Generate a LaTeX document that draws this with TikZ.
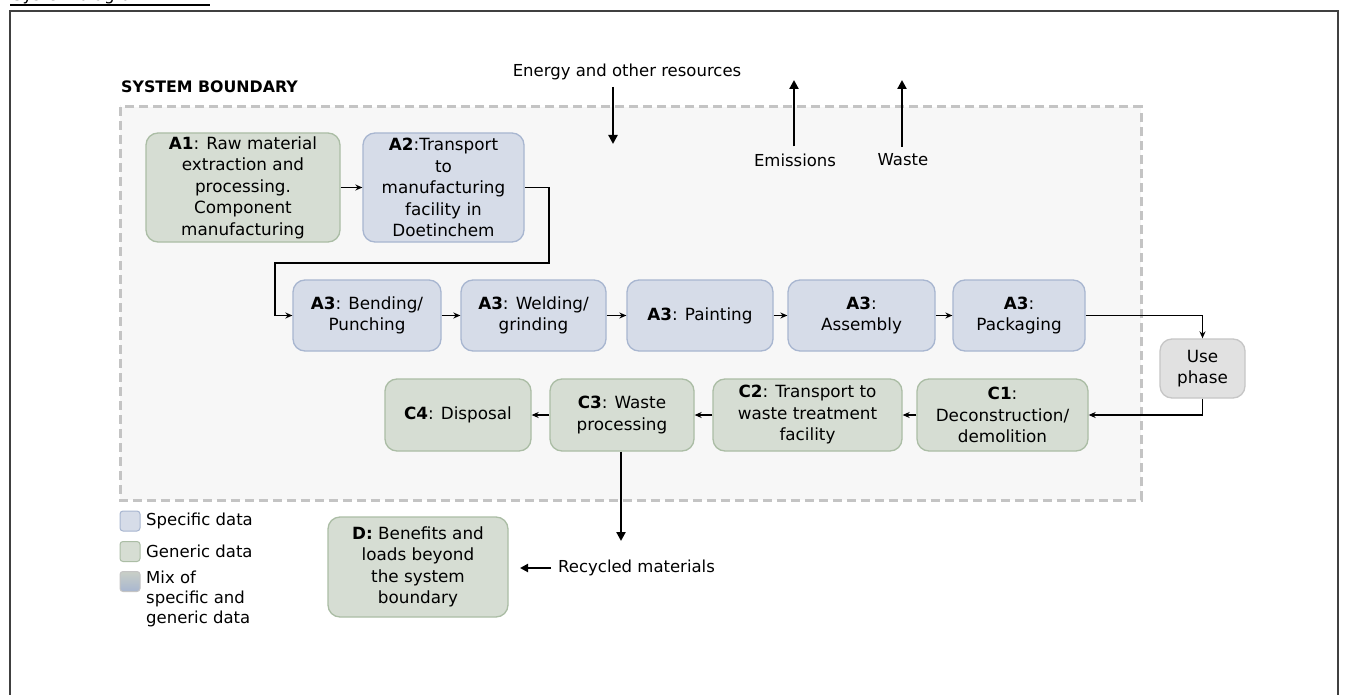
\documentclass[tikz,border=0pt]{standalone}
\usepackage{fontspec}
\setmainfont{DejaVu Sans}
\usetikzlibrary{arrows.meta}
\definecolor{gfill}{HTML}{D6DDD3}
\definecolor{gline}{HTML}{ABBDA5}
\definecolor{bfill}{HTML}{D6DCE8}
\definecolor{bline}{HTML}{A8B6D0}
\definecolor{ufill}{HTML}{E1E1E1}
\definecolor{uline}{HTML}{C6C6C6}
\definecolor{bdfill}{HTML}{F7F7F7}
\definecolor{bdline}{HTML}{C4C4C4}
\tikzset{
  base/.style={rounded corners=12pt, line width=1.3pt, align=center, inner sep=2pt,
    font=\fontsize{16.8}{21.5}\selectfont},
  gbox/.style={base, fill=gfill, draw=gline},
  bbox/.style={base, fill=bfill, draw=bline},
  ubox/.style={base, fill=ufill, draw=uline},
  conn/.style={line width=1.2pt, -{Stealth[length=7pt,width=6pt]}},
  bigarrow/.style={line width=2.6pt, -{Triangle[length=9pt,width=9pt]}},
  lbl/.style={font=\fontsize{16.5}{20.5}\selectfont, inner sep=0pt},
  legbox/.style={rounded corners=3pt, line width=1pt, minimum width=20pt, minimum height=20pt, inner sep=0pt}
}
\begin{document}
\begin{tikzpicture}[x=1pt,y=-1pt]
\useasboundingbox (0,0) rectangle (1346,695);
\clip (0,0) rectangle (1346,695);
\fill[white] (0,0) rectangle (1346,695);
% title (cut off) and outer frame
\node[lbl, anchor=base west] (title) at (12,0.5) {System diagram};
\draw[line width=1.2pt] (10,5) -- (210,5);
\draw[line width=2pt, draw=black!75] (10,720) -- (10,11) -- (1338,11) -- (1338,720);
% system boundary
\draw[fill=bdfill, draw=bdline, line width=3pt, dash pattern=on 9pt off 5pt] (120,107) rectangle (1141,500);
\node[lbl, anchor=west, font=\bfseries\fontsize{15.8}{19}\selectfont] (sb) at (121,87) {SYSTEM BOUNDARY};
% top resources
\node[lbl] (energy) at (627,72) {Energy and other resources};
\coordinate (e1) at (613,87);
\coordinate (e2) at (613,144);
\draw[bigarrow] (e1) -- (e2);
\node[lbl] (emis) at (795,160) {Emissions};
\node[lbl] (waste) at (903,160) {Waste};
\coordinate (m2) at (794,80);
\coordinate (w2) at (902,80);
\draw[bigarrow] (emis.north -| m2) ++(0,-7) coordinate (m1) -- (m2);
\draw[bigarrow] (waste.north -| w2) ++(0,-7) coordinate (w1) -- (w2);
% A1, A2
\node[gbox, minimum width=194pt, minimum height=109pt] (A1) at (243,187.5)
  {\textbf{A1}: Raw material\\extraction and\\processing.\\Component\\manufacturing};
\node[bbox, minimum width=161pt, minimum height=109pt] (A2) at (443.5,187.5)
  {\textbf{A2}:Transport\\to\\manufacturing\\facility in\\Doetinchem};
\draw[conn] (A1) -- (A2);
% A3 row
\node[bbox, minimum width=148pt, minimum height=71pt] (bend) at (367,315.5) {\textbf{A3}: Bending/\\Punching};
\node[bbox, minimum width=145pt, minimum height=71pt] (weld) at (533.5,315.5) {\textbf{A3}: Welding/\\grinding};
\node[bbox, minimum width=146pt, minimum height=71pt] (paint) at (700,315.5) {\textbf{A3}: Painting};
\node[bbox, minimum width=147pt, minimum height=71pt] (assem) at (861.5,315.5) {\textbf{A3}:\\Assembly};
\node[bbox, minimum width=132pt, minimum height=71pt] (pack) at (1019,315.5) {\textbf{A3}:\\Packaging};
\coordinate (p1) at (549,263);
\coordinate (p2) at (275,263);
\draw[conn] (A2.east) -| (p1) -- (p2) |- (bend.west);
\draw[conn] (bend) -- (weld);
\draw[conn] (weld) -- (paint);
\draw[conn] (paint) -- (assem);
\draw[conn] (assem) -- (pack);
% use phase
\node[ubox, minimum width=85pt, minimum height=59pt] (use) at (1202.5,368.5) {Use\\phase};
\draw[conn] (pack.east) -| (use.north);
% C row
\node[gbox, minimum width=171pt, minimum height=72pt] (C1) at (1002.5,415) {\textbf{C1}:\\Deconstruction/\\demolition};
\node[gbox, minimum width=189pt, minimum height=72pt] (C2) at (807.5,415) {\textbf{C2}: Transport to\\waste treatment\\facility};
\node[gbox, minimum width=144pt, minimum height=72pt] (C3) at (622,415) {\textbf{C3}: Waste\\processing};
\node[gbox, minimum width=146pt, minimum height=72pt] (C4) at (458,415) {\textbf{C4}: Disposal};
\draw[conn] (use.south) |- (C1.east);
\draw[conn] (C1) -- (C2);
\draw[conn] (C2) -- (C3);
\draw[conn] (C3) -- (C4);
% D
\node[gbox, minimum width=180pt, minimum height=100pt] (D) at (418,567)
  {\textbf{D:} Benefits and\\loads beyond\\the system\\boundary};
\coordinate (c3end) at (621,541);
\draw[bigarrow] (C3.south -| c3end) -- (c3end);
\node[lbl, anchor=west] (recy) at (558,568) {Recycled materials};
\coordinate (r2) at (520,568);
\draw[line width=2.6pt, -{Triangle[length=8pt,width=8pt]}] (recy.west) ++(-7,0) -- (r2);
% legend
\node[legbox, fill=bfill, draw=bline] (lg1) at (130,521) {};
\node[legbox, fill=gfill, draw=gline] (lg2) at (130,551.5) {};
\node[legbox, top color=gfill!85!gray, bottom color=bline, draw=bdline] (lg3) at (130,581.5) {};
\node[lbl, anchor=west] (lt1) at (146,521) {Specific data};
\node[lbl, anchor=west] (lt2) at (146,551.5) {Generic data};
\node[lbl, anchor=north west, align=left, font=\fontsize{16.5}{20}\selectfont] (lt3) at (146,571) {Mix of\\specific and\\generic data};
\end{tikzpicture}
\end{document}
